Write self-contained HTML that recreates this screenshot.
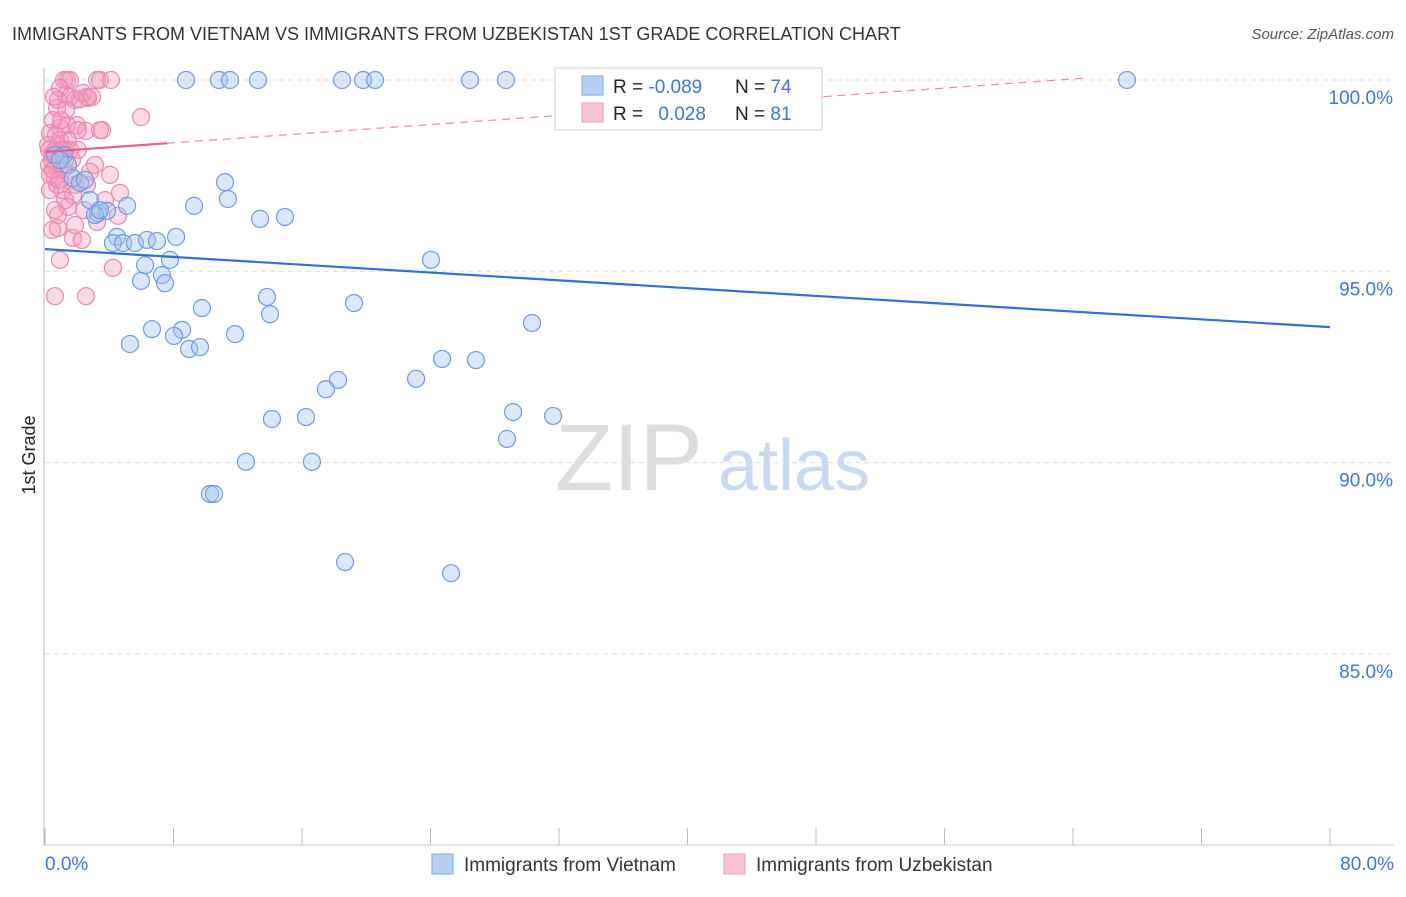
<!DOCTYPE html>
<html><head><meta charset="utf-8"><style>
body{margin:0;background:#fff;font-family:"Liberation Sans",sans-serif}
svg text{font-family:"Liberation Sans",sans-serif}
</style></head><body>
<svg id="chart" width="1406" height="892">
<text x="12" y="40" font-size="18" fill="#333">IMMIGRANTS FROM VIETNAM VS IMMIGRANTS FROM UZBEKISTAN 1ST GRADE CORRELATION CHART</text>
<text x="1394" y="39" font-size="15" fill="#555" text-anchor="end" font-style="italic">Source: ZipAtlas.com</text>
<text x="35" y="455" font-size="18" fill="#222" text-anchor="middle" transform="rotate(-90 35 455)">1st Grade</text>
<g id="grid"></g>
<g id="axes"></g>
<text x="555" y="490" font-size="95" fill="#ddd" font-family="Liberation Serif">ZIP</text>
<text x="718" y="490" font-size="72" fill="#c8daf2">atlas</text>
<g id="pts"></g>
<g id="lines"></g>
<g>
<rect x="555" y="68" width="267" height="62" fill="#fff" stroke="#ccc"/>
<rect x="582" y="76" width="21" height="19" fill="#b7d0f5" stroke="#7ea6e0"/>
<rect x="582" y="103" width="21" height="19" fill="#f9c4d5" stroke="#ec9ab6"/>
<text x="613" y="93" font-size="19" fill="#222">R = <tspan fill="#3a78d4">-0.089</tspan></text>
<text x="735" y="93" font-size="19" fill="#222">N = <tspan fill="#3a78d4">74</tspan></text>
<text x="613" y="120" font-size="19" fill="#222">R = <tspan fill="#3a78d4" dx="10">0.028</tspan></text>
<text x="735" y="120" font-size="19" fill="#222">N = <tspan fill="#3a78d4">81</tspan></text>
</g>
<g>
<rect x="432" y="854" width="21" height="20" fill="#b7d0f5" stroke="#7ea6e0"/>
<text x="464" y="871" font-size="19" fill="#333">Immigrants from Vietnam</text>
<rect x="724" y="854" width="21" height="20" fill="#f9c4d5" stroke="#ec9ab6"/>
<text x="756" y="871" font-size="19" fill="#333">Immigrants from Uzbekistan</text>
</g>
</svg>
<script>
const xTicks=[0,10,20,30,40,50,60,70,80];
const yTicks=[100,95,90,85];
const blueX=[8.78,10.83,11.52,13.26,18.49,19.80,20.55,26.46,28.70,43.15,67.36,1.18,1.43,1.74,2.18,2.80,3.30,3.86,5.11,3.11,4.48,4.23,4.86,5.60,6.35,6.97,8.16,6.23,7.78,5.98,7.28,7.47,11.21,11.39,9.28,13.39,14.94,24.03,9.77,13.82,14.01,19.24,30.32,6.66,8.53,8.03,5.29,8.97,9.65,11.83,24.72,26.83,18.24,17.49,23.10,14.13,16.25,29.14,31.63,28.76,12.51,16.62,10.27,10.52,18.68,25.28,0.62,0.93,3.42,2.49];
const blueY=[100,100,100,100,100,100,100,100,100,100,100,98.04,97.78,97.44,97.31,96.86,96.52,96.58,96.71,96.47,95.90,95.74,95.74,95.74,95.82,95.79,95.90,95.16,95.30,94.75,94.90,94.69,97.33,96.89,96.71,96.37,96.42,95.30,94.04,94.33,93.88,94.17,93.65,93.49,93.47,93.31,93.10,92.97,93.02,93.36,92.71,92.68,92.16,91.92,92.19,91.14,91.19,91.32,91.22,90.62,90.02,90.02,89.18,89.18,87.40,87.11,98.04,97.91,96.60,97.39];
const pinkX=[1.18,1.37,1.56,3.24,3.42,4.11,1.31,1.56,2.18,2.68,0.93,2.61,0.75,0.93,0.93,1.37,1.99,3.42,5.98,0.62,0.44,0.68,0.93,1.25,1.56,0.75,1.06,1.87,3.11,4.05,4.67,2.61,1.74,0.81,0.44,0.81,1.74,2.30,0.93,4.23,0.62,2.55,4.54,3.24,1.43,3.55,2.05,0.50,0.31,0.19,0.25,0.31,0.62,1.25,1.12,1.43,0.81,1.87,2.37,2.93,0.56,1.31,1.56,2.80,3.74,2.43,1.87,1.25,0.62,0.31,0.44,0.81,1.06,0.68,1.68,2.05,0.25,0.50,0.87,1.00,2.55];
const pinkY=[100,100,100,100,100,100,99.61,99.56,99.50,99.53,99.79,99.56,99.27,98.75,98.43,98.82,98.82,98.69,99.03,98.17,97.91,97.78,98.04,98.17,97.52,97.26,97.12,97.26,97.78,97.52,97.05,97.26,96.99,96.47,96.08,96.13,95.87,95.82,95.30,95.09,94.35,94.35,96.45,96.29,96.68,98.69,98.69,98.95,98.61,98.30,97.78,97.52,97.44,97.91,97.65,98.43,99.48,99.48,99.66,99.56,99.56,99.22,98.17,97.60,96.86,96.60,96.21,96.86,96.60,97.12,98.04,98.30,98.17,98.56,97.91,98.17,98.17,97.65,97.39,98.95,98.67];
const blueTrend=[95.58,93.54];
const pinkTrend=[98.12,100.05];
const pinkTrendEndX=64.75, pinkSolidX=7.6;
const X=v=>45+v/80*1285;
const Y=v=>80+(100-v)*38.26;
const NS='http://www.w3.org/2000/svg';
function mk(tag,attrs,parent){const e=document.createElementNS(NS,tag);for(const k in attrs)e.setAttribute(k,attrs[k]);document.getElementById(parent).appendChild(e);return e;}
yTicks.forEach(t=>{
 const l=mk('line',{x1:45,x2:1394,y1:Y(t),y2:Y(t),stroke:'#ddd','stroke-dasharray':'5,4'},'grid');
 
 
 const tx=mk('text',{x:1393,y:Y(t)+24,'font-size':19,fill:'#3a78d4','text-anchor':'end'},'grid');
 tx.textContent=t.toFixed(1)+'%';
 
 
});
mk('line',{x1:44,x2:44,y1:68,y2:845,stroke:'#bbb'},'axes');
mk('line',{x1:44,x2:1394,y1:845,y2:845,stroke:'#ccc'},'axes');
for(let i=0;i<=10;i++){const v=i*8;const t=mk('line',{x1:X(v),x2:X(v),y1:828,y2:845,stroke:'#bbb'},'axes');
 
 }
[[0,'start',45],[80,'end',1394]].forEach(([v,a,px])=>{const t=mk('text',{x:px,y:870,'font-size':19,fill:'#3a78d4','text-anchor':a},'axes');t.textContent=v.toFixed(1)+'%';
 
 });
pinkX.forEach((x,i)=>{const c=mk('circle',{cx:X(x),cy:Y(pinkY[i]),r:8.5,fill:'rgba(244,150,185,0.35)',stroke:'#ea89ab','stroke-width':1.2},'pts');
 
 });
blueX.forEach((x,i)=>{const c=mk('circle',{cx:X(x),cy:Y(blueY[i]),r:8.5,fill:'rgba(160,195,240,0.4)',stroke:'#6c9de2','stroke-width':1.2},'pts');
 
 });
const bl=mk('line',{x1:X(0),y1:Y(blueTrend[0]),x2:X(80),y2:Y(blueTrend[1]),stroke:'#2f72d6','stroke-width':2.2},'lines');


const pY=x=>pinkTrend[0]+(pinkTrend[1]-pinkTrend[0])*x/pinkTrendEndX;
const pd=mk('line',{x1:X(pinkSolidX),y1:Y(pY(pinkSolidX)),x2:X(pinkTrendEndX),y2:Y(pY(pinkTrendEndX)),stroke:'#ea89ab','stroke-width':1.2,'stroke-dasharray':'8,6'},'lines');


const ps=mk('line',{x1:X(0),y1:Y(pY(0)),x2:X(pinkSolidX),y2:Y(pY(pinkSolidX)),stroke:'#e8608f','stroke-width':2.2},'lines');


</script>
</body></html>
